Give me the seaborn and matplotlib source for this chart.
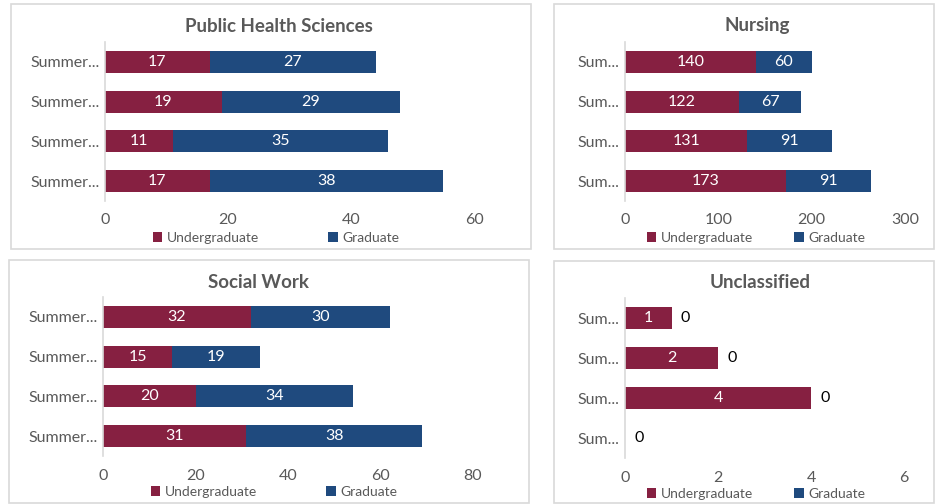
import matplotlib
matplotlib.use("Agg")
import matplotlib.pyplot as plt
from matplotlib.patches import Rectangle, Patch
import seaborn as sns
import pandas as pd

sns.set_theme(style="white")
plt.rcParams['font.family'] = ['Lato', 'DejaVu Sans']

# ---- data ----
terms = ["Summer 1", "Summer 2", "Summer 3", "Summer 4"]
labels_long = ["Summer...", "Summer...", "Summer...", "Summer..."]
labels_short = ["Sum...", "Sum...", "Sum...", "Sum..."]

phs_ug = [17, 19, 11, 17]
phs_gr = [27, 29, 35, 38]
nur_ug = [140, 122, 131, 173]
nur_gr = [60, 67, 91, 91]
sw_ug = [32, 15, 20, 31]
sw_gr = [30, 19, 34, 38]
unc_ug = [1, 2, 4, 0]
unc_gr = [0, 0, 0, 0]

titles = ["Public Health Sciences", "Nursing", "Social Work", "Unclassified"]
x_ticks = [[0, 20, 40, 60], [0, 100, 200, 300], [0, 20, 40, 60, 80], [0, 2, 4, 6]]

UG_COLOR = "#862041"
GR_COLOR = "#1F4A7E"
TEXT_GRAY = "#595959"

W, H = 935, 504
fig = plt.figure(figsize=(W / 100, H / 100), dpi=100)
fig.patch.set_facecolor("white")

def fx(px):
    return px / W

def fy(py):
    return 1 - py / H

# panel borders (pixel boxes)
boxes = [(11, 4, 531, 249), (554, 4, 934, 249), (9, 260, 529, 503), (554, 261, 934, 503)]
for (x0, y0, x1, y1) in boxes:
    fig.patches.append(Rectangle((fx(x0), fy(y1)), fx(x1 - x0), (y1 - y0) / H,
                                 transform=fig.transFigure, fill=False,
                                 edgecolor="#d9d9d9", linewidth=1.2))

# axes positions in pixels: (left, right(last tick), top, bottom)
ax_px = [(105, 474, 42, 201), (625, 905, 42, 201), (103, 473, 297, 456), (625, 904, 298, 458)]
title_px = [(279, 26), (757, 26), (259, 282), (760, 283)]
legend_px = [(276, 238, 5.0), (756, 238, 3.0), (274, 492, 5.0), (756, 494, 3.0)]

datasets = [(phs_ug, phs_gr), (nur_ug, nur_gr), (sw_ug, sw_gr), (unc_ug, unc_gr)]
ytick_sets = [labels_long, labels_short, labels_long, labels_short]

for i, ((ug, gr), (l, r, t, b)) in enumerate(zip(datasets, ax_px)):
    ax = fig.add_axes([fx(l), fy(b), fx(r - l), (b - t) / H])
    df = pd.DataFrame({"term": terms, "ug": ug, "gr": gr})
    df["total"] = df["ug"] + df["gr"]
    sns.barplot(data=df, y="term", x="total", color=GR_COLOR, saturation=1,
                width=0.55, orient="h", ax=ax, errorbar=None, linewidth=0)
    sns.barplot(data=df, y="term", x="ug", color=UG_COLOR, saturation=1,
                width=0.55, orient="h", ax=ax, errorbar=None, linewidth=0)
    xmax = x_ticks[i][-1]
    ax.set_xlim(0, xmax)
    ax.set_ylim(3.5, -0.5)
    ax.set_xticks(x_ticks[i])
    ax.set_yticks(range(len(terms)))
    ax.set_yticklabels(ytick_sets[i])
    ax.set_xlabel("")
    ax.set_ylabel("")
    for s in ["top", "right", "bottom"]:
        ax.spines[s].set_visible(False)
    ax.spines["left"].set_color("#d9d9d9")
    ax.spines["left"].set_linewidth(1.2)
    ax.tick_params(axis="x", length=0, pad=9, labelsize=11.5, labelcolor=TEXT_GRAY)
    ax.tick_params(axis="y", length=0, pad=4, labelsize=11.5, labelcolor=TEXT_GRAY)
    ax.set_facecolor("none")
    ax.grid(False)

    # data labels
    for j, (u, g) in enumerate(zip(ug, gr)):
        if u > 0:
            ax.text(u / 2, j, str(u), ha="center", va="center", color="white", fontsize=11.5)
        if g > 0:
            ax.text(u + g / 2, j, str(g), ha="center", va="center", color="white", fontsize=11.5)
        else:
            off = xmax * 0.05
            ax.text(u + off, j, str(g), ha="center", va="center", color="black", fontsize=11.5)

    # title
    tx, ty = title_px[i]
    fig.text(fx(tx), fy(ty), titles[i], ha="center", va="center", fontsize=13.5,
             fontweight="bold", color=TEXT_GRAY)

    # legend
    handles = [Patch(facecolor=UG_COLOR, edgecolor="none", label="Undergraduate"),
               Patch(facecolor=GR_COLOR, edgecolor="none", label="Graduate")]
    lx, ly, cs = legend_px[i]
    fig.legend(handles=handles, loc="center", bbox_to_anchor=(fx(lx), fy(ly)),
               ncol=2, frameon=False, fontsize=10, handlelength=0.7, handleheight=0.7,
               handletextpad=0.3, columnspacing=cs, labelcolor=TEXT_GRAY,
               borderpad=0, borderaxespad=0)

fig.savefig("out.png", dpi=100, facecolor="white")
